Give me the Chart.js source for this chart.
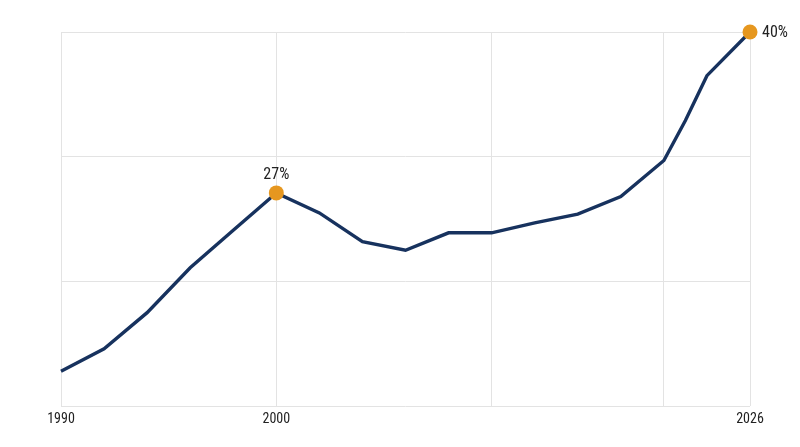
<!DOCTYPE html>
<html>
<head>
<meta charset="utf-8">
<script src="https://cdn.jsdelivr.net/npm/chart.js@4/dist/chart.umd.min.js"></script>
<style>
    html, body { margin: 0; padding: 0; background: #fff; }
    .wrap { width: 800px; height: 447px; }
</style>
</head>
<body>
<div class="wrap"><canvas class="line-chart"></canvas></div>
<script>
// axis slots: yearly to 2018, then every two years
const categories = ['1990', '1991', '1992', '1993', '1994', '1995', '1996', '1997', '1998', '1999',
    '2000', '2001', '2002', '2003', '2004', '2005', '2006', '2007', '2008', '2009',
    '2010', '2011', '2012', '2013', '2014', '2015', '2016', '2017', '2018',
    '2020', '2022', '2024', '2026'];

const years = ['1990', '1992', '1994', '1996', '1998', '2000', '2002', '2004', '2006', '2008',
    '2010', '2012', '2014', '2016', '2018', '2020', '2022', '2026'];
const share = [12.8, 14.6, 17.5, 21.1, 24.1, 27.1, 25.5, 23.2, 22.5, 23.9,
    23.9, 24.7, 25.4, 26.8, 29.7, 32.9, 36.5, 40.0];

const tickLabels = ['1990', '2000', '2026'];
const gridYears = ['1990', '2000', '2010', '2018', '2026'];
const highlights = ['2000', '2026'];
const highlightText = ['27%', '40%'];

const LINE = '#17325e';
const DOT = '#e6971f';
const GRID = '#e3e3e3';
const FONT = "'Roboto Condensed', 'Liberation Sans Narrow', Roboto, sans-serif";

const pointLabels = {
    id: 'pointLabels',
    afterDatasetsDraw(chart) {
        const c = chart.ctx;
        const meta = chart.getDatasetMeta(0);
        c.save();
        c.font = '16px ' + FONT;
        c.fillStyle = '#222';
        highlights.forEach((yr, i) => {
            const p = meta.data[years.indexOf(yr)];
            if (i === highlights.length - 1) {
                c.textAlign = 'left';
                c.textBaseline = 'middle';
                c.fillText(highlightText[i], p.x + 12, p.y + 1);
            } else {
                c.textAlign = 'center';
                c.textBaseline = 'bottom';
                c.fillText(highlightText[i], p.x, p.y - 10);
            }
        });
        c.restore();
    }
};

const ctx = document.querySelector('.line-chart').getContext('2d');

const line_chart = new Chart(ctx, {
    type: 'line',
    data: {
        labels: categories,
        datasets: [{
            data: years.map((y, i) => ({ x: y, y: share[i] })),
            borderColor: LINE,
            borderWidth: 3.4,
            tension: 0,
            fill: false,
            clip: false,
            pointRadius: (c) => highlights.includes(years[c.dataIndex]) ? 7.5 : 0,
            pointHoverRadius: 0,
            pointBackgroundColor: DOT,
            pointBorderWidth: 0,
        }],
    },
    options: {
        responsive: true,
        maintainAspectRatio: false,
        animation: false,
        layout: {
            padding: { top: 32, right: 50, left: 61, bottom: 14 },
        },
        plugins: {
            legend: { display: false },
            tooltip: { enabled: false },
        },
        scales: {
            x: {
                type: 'category',
                offset: false,
                border: { display: false },
                grid: {
                    drawTicks: false,
                    color: (c) => gridYears.includes(categories[c.index]) ? GRID : 'rgba(0,0,0,0)',
                    lineWidth: 1,
                },
                ticks: {
                    autoSkip: false,
                    maxRotation: 0,
                    padding: 5,
                    color: '#222',
                    font: { size: 14, family: FONT },
                    callback: function (v) {
                        const lab = categories[v];
                        return tickLabels.includes(lab) ? lab : '';
                    },
                },
            },
            y: {
                min: 10,
                max: 40,
                border: { display: false },
                grid: { color: GRID, drawTicks: false },
                ticks: { display: false, stepSize: 10 },
            },
        },
    },
    plugins: [pointLabels],
});
</script>
</body>
</html>
